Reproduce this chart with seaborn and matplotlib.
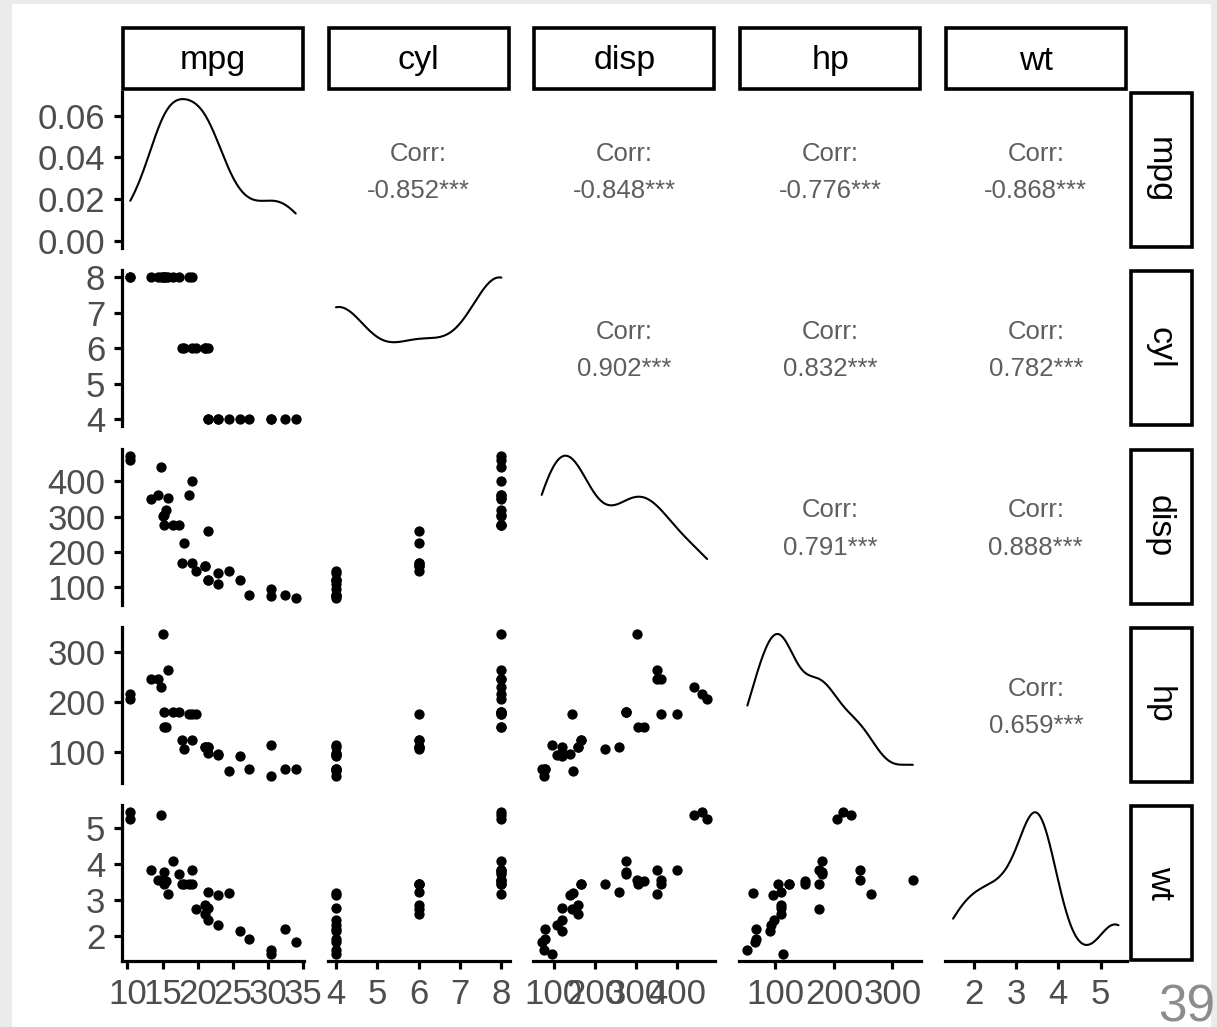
import numpy as np
import pandas as pd
import matplotlib
matplotlib.use("Agg")
import matplotlib.pyplot as plt
from matplotlib.patches import Rectangle
import seaborn as sns

# ---- data (mtcars subset) ----
variables = ["mpg", "cyl", "disp", "hp", "wt"]
mpg = [21.0, 21.0, 22.8, 21.4, 18.7, 18.1, 14.3, 24.4, 22.8, 19.2, 17.8, 16.4, 17.3, 15.2, 10.4, 10.4,
       14.7, 32.4, 30.4, 33.9, 21.5, 15.5, 15.2, 13.3, 19.2, 27.3, 26.0, 30.4, 15.8, 19.7, 15.0, 21.4]
cyl = [6, 6, 4, 6, 8, 6, 8, 4, 4, 6, 6, 8, 8, 8, 8, 8, 8, 4, 4, 4, 4, 8, 8, 8, 8, 4, 4, 4, 8, 6, 8, 4]
disp = [160, 160, 108, 258, 360, 225, 360, 146.7, 140.8, 167.6, 167.6, 275.8, 275.8, 275.8, 472, 460,
        440, 78.7, 75.7, 71.1, 120.1, 318, 304, 350, 400, 79, 120.3, 95.1, 351, 145, 301, 121]
hp = [110, 110, 93, 110, 175, 105, 245, 62, 95, 123, 123, 180, 180, 180, 205, 215,
      230, 66, 52, 65, 97, 150, 150, 245, 175, 66, 91, 113, 264, 175, 335, 109]
wt = [2.620, 2.875, 2.320, 3.215, 3.440, 3.460, 3.570, 3.190, 3.150, 3.440, 3.440, 4.070, 3.730, 3.780,
      5.250, 5.424, 5.345, 2.200, 1.615, 1.835, 2.465, 3.520, 3.435, 3.840, 3.845, 1.935, 2.140, 1.513,
      3.170, 2.770, 3.570, 2.780]

x_ticks = {"mpg": [10, 15, 20, 25, 30, 35], "cyl": [4, 5, 6, 7, 8], "disp": [100, 200, 300, 400],
           "hp": [100, 200, 300], "wt": [2, 3, 4, 5]}
y_ticks = {"mpg": [0.00, 0.02, 0.04, 0.06], "cyl": [4, 5, 6, 7, 8], "disp": [100, 200, 300, 400],
           "hp": [100, 200, 300], "wt": [2, 3, 4, 5]}
y_ticklabels = {"mpg": ["0.00", "0.02", "0.04", "0.06"]}
page_number = "39"

df = pd.DataFrame({"mpg": mpg, "cyl": cyl, "disp": disp, "hp": hp, "wt": wt})

# ---- styling ----
sns.set_theme(style="white")
plt.rcParams["font.family"] = ["Liberation Sans", "DejaVu Sans"]

FW, FH = 1217, 1027
fig = plt.figure(figsize=(FW / 100, FH / 100), dpi=100, facecolor="#ebebeb")
fig.add_artist(Rectangle((12 / FW, 0), (1211 - 12) / FW, 1 - 4 / FH, transform=fig.transFigure,
                         facecolor="white", edgecolor="none", zorder=0))


def frect(x0, y0, w, h):
    return [x0 / FW, 1 - (y0 + h) / FH, w / FW, h / FH]


col_left = [122 + i * 205.7 for i in range(5)]
pan_w = 182
row_top = [92 + i * 178.3 for i in range(5)]
pan_h = 156

TICK_COLOR = "#4d4d4d"
TICK_SIZE = 25
AX_LW = 2.3
CORR_COLOR = "#5e5e5e"
CORR_SIZE = 18.5


def expand(v):
    lo, hi = np.min(v), np.max(v)
    r = hi - lo
    return lo - 0.05 * r, hi + 0.05 * r


def nrd0_factor(v):
    v = np.asarray(v, float)
    sd = v.std(ddof=1)
    q75, q25 = np.percentile(v, [75, 25])
    bw = 0.9 * min(sd, (q75 - q25) / 1.34) * len(v) ** (-0.2)
    return bw / sd


def stars(r, n):
    t = abs(r) * np.sqrt((n - 2) / (1 - r * r))
    if t > 3.646:
        return "***"
    if t > 2.750:
        return "**"
    if t > 2.042:
        return "*"
    return ""


n = len(df)
for i, yv in enumerate(variables):
    for j, xv in enumerate(variables):
        ax = fig.add_axes(frect(col_left[j], row_top[i], pan_w, pan_h))
        ax.set_facecolor("none")
        for s in ax.spines.values():
            s.set_visible(False)
        if i == j:
            sns.kdeplot(x=df[xv], ax=ax, bw_method=nrd0_factor(df[xv]), cut=0,
                        color="black", linewidth=1.5)
            ymax = ax.lines[0].get_ydata().max()
            ax.set_ylim(-0.05 * ymax, 1.05 * ymax)
            ax.set_xlim(*expand(df[xv]))
        elif i > j:
            sns.scatterplot(x=df[xv], y=df[yv], ax=ax, color="black", s=55, linewidth=0)
            ax.set_xlim(*expand(df[xv]))
            ax.set_ylim(*expand(df[yv]))
        else:
            r = np.corrcoef(df[xv], df[yv])[0, 1]
            ax.text(0.5, 0.605, "Corr:", transform=ax.transAxes, ha="center", va="center",
                    fontsize=CORR_SIZE, color=CORR_COLOR)
            ax.text(0.5, 0.365, f"{r:.3f}{stars(r, n)}", transform=ax.transAxes, ha="center",
                    va="center", fontsize=CORR_SIZE, color=CORR_COLOR)
            ax.set_xlim(0, 1)
            ax.set_ylim(0, 1)
        ax.set_xlabel("")
        ax.set_ylabel("")

        # axes
        if j == 0:
            ax.spines["left"].set_visible(True)
            ax.spines["left"].set_color("black")
            ax.spines["left"].set_linewidth(AX_LW)
            ax.set_yticks(y_ticks[yv])
            if yv in y_ticklabels:
                ax.set_yticklabels(y_ticklabels[yv])
            ax.tick_params(axis="y", left=True, length=6, width=AX_LW, color="black",
                           labelsize=TICK_SIZE, labelcolor=TICK_COLOR, pad=6)
        else:
            ax.set_yticks([])
        if i == 4:
            ax.spines["bottom"].set_visible(True)
            ax.spines["bottom"].set_color("black")
            ax.spines["bottom"].set_linewidth(AX_LW)
            ax.set_xticks(x_ticks[xv])
            ax.tick_params(axis="x", bottom=True, length=6, width=AX_LW, color="black",
                           labelsize=TICK_SIZE, labelcolor=TICK_COLOR, pad=6)
        else:
            ax.set_xticks([])

# strips
STRIP_LW = 2.6
for j, v in enumerate(variables):
    x0 = col_left[j]
    fig.add_artist(Rectangle(((x0 + 1) / FW, 1 - 89 / FH), (pan_w - 2) / FW, 61 / FH,
                             transform=fig.transFigure, facecolor="white", edgecolor="black",
                             linewidth=STRIP_LW))
    fig.text((x0 + pan_w / 2) / FW, 1 - 61 / FH, v, ha="center", va="center",
             fontsize=24.5, color="black")
for i, v in enumerate(variables):
    y0 = row_top[i]
    fig.add_artist(Rectangle((1131 / FW, 1 - (y0 + pan_h - 1) / FH), 61 / FW, (pan_h - 2) / FH,
                             transform=fig.transFigure, facecolor="white", edgecolor="black",
                             linewidth=STRIP_LW))
    fig.text(1159.5 / FW, 1 - (y0 + pan_h / 2) / FH, v, ha="center", va="center",
             fontsize=24.5, color="black", rotation=-90)

fig.text(1158 / FW, 1 - 1022 / FH, page_number, ha="left", va="baseline", fontsize=37,
         color="#8c8c8c")

fig.savefig("out.png", dpi=100, facecolor=fig.get_facecolor())
